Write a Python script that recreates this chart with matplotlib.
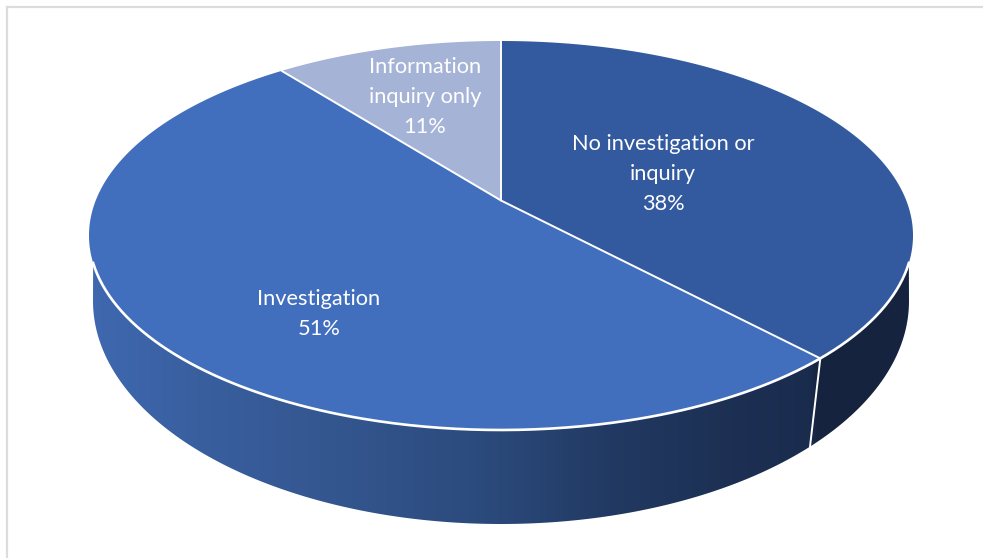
import numpy as np
import matplotlib
matplotlib.use("Agg")
import matplotlib.pyplot as plt
from matplotlib.colors import LinearSegmentedColormap
from matplotlib.patches import Polygon

categories = ["No investigation or\ninquiry", "Investigation", "Information\ninquiry only"]
values = [38.0, 51.4, 10.6]
slice_colors = ["#335a9f", "#416fbe", "#a5b3d6"]

W, H = 983, 558
fig = plt.figure(figsize=(W / 100, H / 100), dpi=100, facecolor="white")
ax = fig.add_axes([0, 0, 1, 1])
ax.set_xlim(0, W)
ax.set_ylim(H, 0)
ax.axis("off")

CX = 501
TOP = dict(cy=235.5, rx=412.0, ry=194.5, a=0.18)
BOT = dict(cy=301.0, rx=408.0, ry=223.0, a=0.145)


def project(theta, r=1.0, e=TOP):
    """theta: clockwise from 12 o'clock on the true circular pie, drawn in perspective."""
    u = r * np.sin(theta)
    v = r * np.cos(theta)
    a = e["a"]
    den = 1 + a * v
    up = u * np.sqrt(1 - a * a) / den
    vp = (v + a) / den
    return CX + e["rx"] * up, e["cy"] - e["ry"] * vp


def ellipse_arc(t0, t1, e, n=300):
    t = np.linspace(t0, t1, n)
    return CX + e["rx"] * np.sin(t), e["cy"] - e["ry"] * np.cos(t)


# side wall ------------------------------------------------------------
join_y = 263.0
t_top = np.arccos((TOP["cy"] - join_y) / TOP["ry"])
t_bot = np.pi / 2
tx, ty = ellipse_arc(t_top, 2 * np.pi - t_top, TOP)
bx, by = ellipse_arc(2 * np.pi - t_bot, t_bot, BOT)
wall_xy = np.column_stack([np.r_[tx, bx], np.r_[ty, by]])

wall_cmap = LinearSegmentedColormap.from_list(
    "wall",
    [(0.0, "#3f68b0"), (0.13, "#395f9f"), (0.30, "#34568f"), (0.48, "#2b4a7c"),
     (0.65, "#213860"), (0.80, "#1c2f52"), (0.875, "#1a2c4e"),
     (0.885, "#15233f"), (1.0, "#15233f")],
)
grad = np.linspace(0, 1, 512).reshape(1, -1)
x_left, x_right = CX - 412, CX + 412
im = ax.imshow(grad, cmap=wall_cmap, aspect="auto", zorder=1,
               extent=(x_left, x_right, 540, 230), interpolation="bilinear")
clip = Polygon(wall_xy, closed=True, transform=ax.transData, facecolor="none", edgecolor="none")
ax.add_patch(clip)
im.set_clip_path(clip)
ax.set_xlim(0, W)
ax.set_ylim(H, 0)

# top face -------------------------------------------------------------
fractions = np.cumsum([0] + values) / sum(values)
angles = 2 * np.pi * fractions
ox, oy = project(0.0, 0.0)
for i, color in enumerate(slice_colors):
    t = np.linspace(angles[i], angles[i + 1], 300)
    px, py = project(t)
    ax.add_patch(Polygon(np.column_stack([np.r_[ox, px], np.r_[oy, py]]),
                         closed=True, facecolor=color, edgecolor="none", zorder=2))

# white separators -----------------------------------------------------
for ang in angles[:-1]:
    ex, ey = project(ang)
    ax.plot([ox, ex], [oy, ey], color="white", lw=1.4, zorder=3, solid_capstyle="round")

ax.plot(tx, ty, color="white", lw=1.9, zorder=3)

ang = angles[1]
tx0, ty0 = project(ang, e=TOP)
bx0, by0 = project(ang, e=BOT)
ax.plot([tx0, bx0], [ty0, by0], color="white", lw=1.4, zorder=3)

# labels ---------------------------------------------------------------
label_pos = [(663, 174), (319, 314), (425, 97)]
for name, val, (lx, ly) in zip(categories, values, label_pos):
    ax.text(lx, ly, f"{name}\n{val:.0f}%", color="white", ha="center", va="center",
            fontsize=15.7, family=["Lato", "DejaVu Sans"], linespacing=1.6, zorder=4)

# chart frame ----------------------------------------------------------
ax.plot([7, 7], [H, 7], color="#dcdcdc", lw=1.6, zorder=0, clip_on=False)
ax.plot([7, W], [7, 7], color="#dcdcdc", lw=1.6, zorder=0, clip_on=False)

fig.savefig("out.png", dpi=100, facecolor="white")
